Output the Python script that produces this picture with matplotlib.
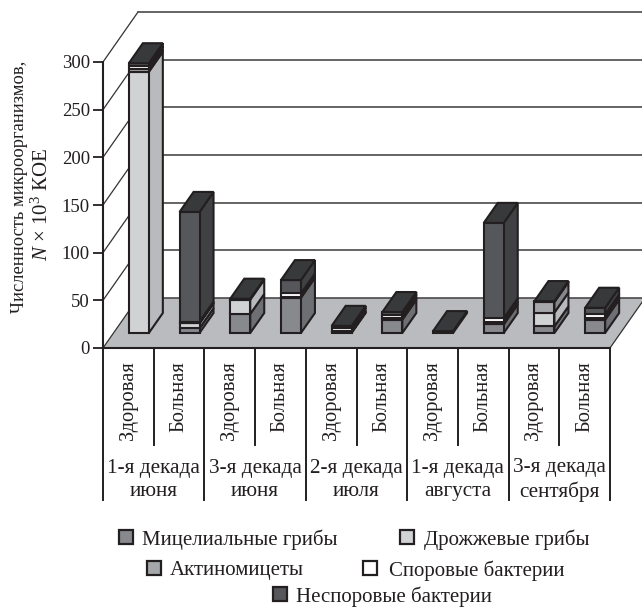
import matplotlib
matplotlib.use('Agg')
import matplotlib.pyplot as plt
from matplotlib.patches import Polygon, Rectangle

plt.rcParams['font.family'] = ['Liberation Serif', 'DejaVu Serif']
plt.rcParams['mathtext.fontset'] = 'custom'
plt.rcParams['mathtext.rm'] = 'Liberation Serif'
plt.rcParams['mathtext.it'] = 'Liberation Serif:italic'

# Data
decades = ['1-я декада\nиюня', '3-я декада\nиюня', '2-я декада\nиюля',
           '1-я декада\nавгуста', '3-я декада\nсентября']
conditions = ['Здоровая', 'Больная'] * 5
yticks = [0, 50, 100, 150, 200, 250, 300]
mycelial = [0, 5, 20, 37, 1, 14, 0, 9, 7, 14]
yeast = [274, 5, 15, 0, 0, 0, 0, 0, 14.5, 0]
actino = [2.5, 1, 0, 1, 1, 1.5, 0, 3, 11, 2]
spore = [3.5, 1, 0, 3.5, 3.5, 3.5, 0, 3.5, 0, 3.5]
nonspore = [3, 115, 1, 14, 2, 3, 2, 100, 1, 7]

names = ['Мицелиальные грибы', 'Дрожжевые грибы', 'Актиномицеты',
         'Споровые бактерии', 'Неспоровые бактерии']
series = [mycelial, yeast, actino, spore, nonspore]
front = ['#87898c', '#d0d2d4', '#a5a7aa', '#ffffff', '#55575a']
side = ['#6d6f72', '#b8babd', '#85878a', '#ffffff', '#404143']
top_col = '#38393b'
edge = '#231f20'

W, H = 642, 607
fig = plt.figure(figsize=(W / 100, H / 100), dpi=100)
ax = fig.add_axes([103 / W, 1 - 348 / H, 507 / W, 286 / H])
ax.set_xlim(0, 10)
ax.set_ylim(0, 300)
ax.patch.set_visible(False)

# fake 3d: depth d=0..1 is sheared up and to the right
px_unit = 286 / 300
DX = 35 / 50.7
DY = 50 / px_unit


def proj(x, y, d):
    return (x + d * DX, y + d * DY)


def poly(pts, fc, ec=edge, lw=1.5, z=3):
    ax.add_patch(Polygon(pts, closed=True, fc=fc, ec=ec, lw=lw, zorder=z,
                         clip_on=False, joinstyle='miter'))


# walls and floor
poly([proj(0, 0, 0), proj(10, 0, 0), proj(10, 0, 1), proj(0, 0, 1)], '#b9bbbe', ec='none', z=1)
for v in yticks:
    ax.plot(*zip(proj(0, v, 0), proj(0, v, 1)), color='#333333', lw=0.9, zorder=1.5, clip_on=False)
    ax.plot(*zip(proj(0, v, 1), proj(10, v, 1)), color='#4a4a4c', lw=1.2, zorder=1.5, clip_on=False)
ax.plot(*zip(proj(10, 0, 0), proj(10, 0, 1)), color='#333333', lw=0.9, zorder=1.5, clip_on=False)

# stacked bars
half = 0.197
d0, d1 = 0.3, 0.7
for i in range(10):
    x0 = i + 0.5 - half
    x1 = i + 0.5 + half
    base = 0
    for vals, fc, sc in zip(series, front, side):
        v = vals[i]
        if v == 0:
            continue
        t = base + v
        poly([proj(x1, base, d0), proj(x1, base, d1), proj(x1, t, d1), proj(x1, t, d0)], sc)
        poly([proj(x0, base, d0), proj(x1, base, d0), proj(x1, t, d0), proj(x0, t, d0)], fc)
        base = t
    poly([proj(x0, base, d0), proj(x1, base, d0), proj(x1, base, d1), proj(x0, base, d1)], top_col)

# axes
for s in ['top', 'right']:
    ax.spines[s].set_visible(False)
ax.spines['left'].set_linewidth(1.5)
ax.spines['bottom'].set_linewidth(1.5)
ax.spines['left'].set_color(edge)
ax.spines['bottom'].set_color(edge)
ax.spines['left'].set_zorder(6)
ax.spines['bottom'].set_zorder(6)
ax.set_xticks([])
ax.set_yticks(yticks)
ax.tick_params(axis='y', length=7, width=1.3, color=edge, pad=2.5, labelsize=13.5, labelcolor='#231f20')

# table under the axis
for k in range(11):
    low = 152 if k % 2 == 0 else 97
    ax.plot([k, k], [0, -low / px_unit], color=edge, lw=1.4, clip_on=False, zorder=5)
for i, label in enumerate(conditions):
    ax.text(i + 0.5, -13 / px_unit, label, rotation=90, ha='center', va='top',
            fontsize=14.8, color='#231f20')
for i, label in enumerate(decades):
    ax.text(2 * i + 1, -132 / px_unit, label, ha='center', va='center',
            fontsize=15.3, color='#231f20', linespacing=1.3)

# y title
fig.text(20 / W, 1 - 187 / H, 'Численность микроорганизмов,', rotation=90,
         ha='center', va='center', fontsize=13.3, color='#231f20')
fig.text(42 / W, 1 - 205 / H, r'$\mathit{N}$ × 10$^3$ КОЕ', rotation=90,
         ha='center', va='center', fontsize=15, color='#231f20')

# legend, three centred rows
leg_sq = [119, 400, 147, 363, 273]
leg_y = [537, 537, 568, 568, 594]
leg_txt = [142, 424, 170, 389, 296]
for name, fc, lx, tx, ly in zip(names, front, leg_sq, leg_txt, leg_y):
    fig.add_artist(Rectangle((lx / W, 1 - (ly + 7) / H), 14 / W, 14 / H, fc=fc, ec=edge, lw=1.6,
                             transform=fig.transFigure))
    fig.text(tx / W, 1 - ly / H, name, ha='left', va='center_baseline',
             fontsize=15, color='#231f20')

fig.savefig('out.png', dpi=100)
